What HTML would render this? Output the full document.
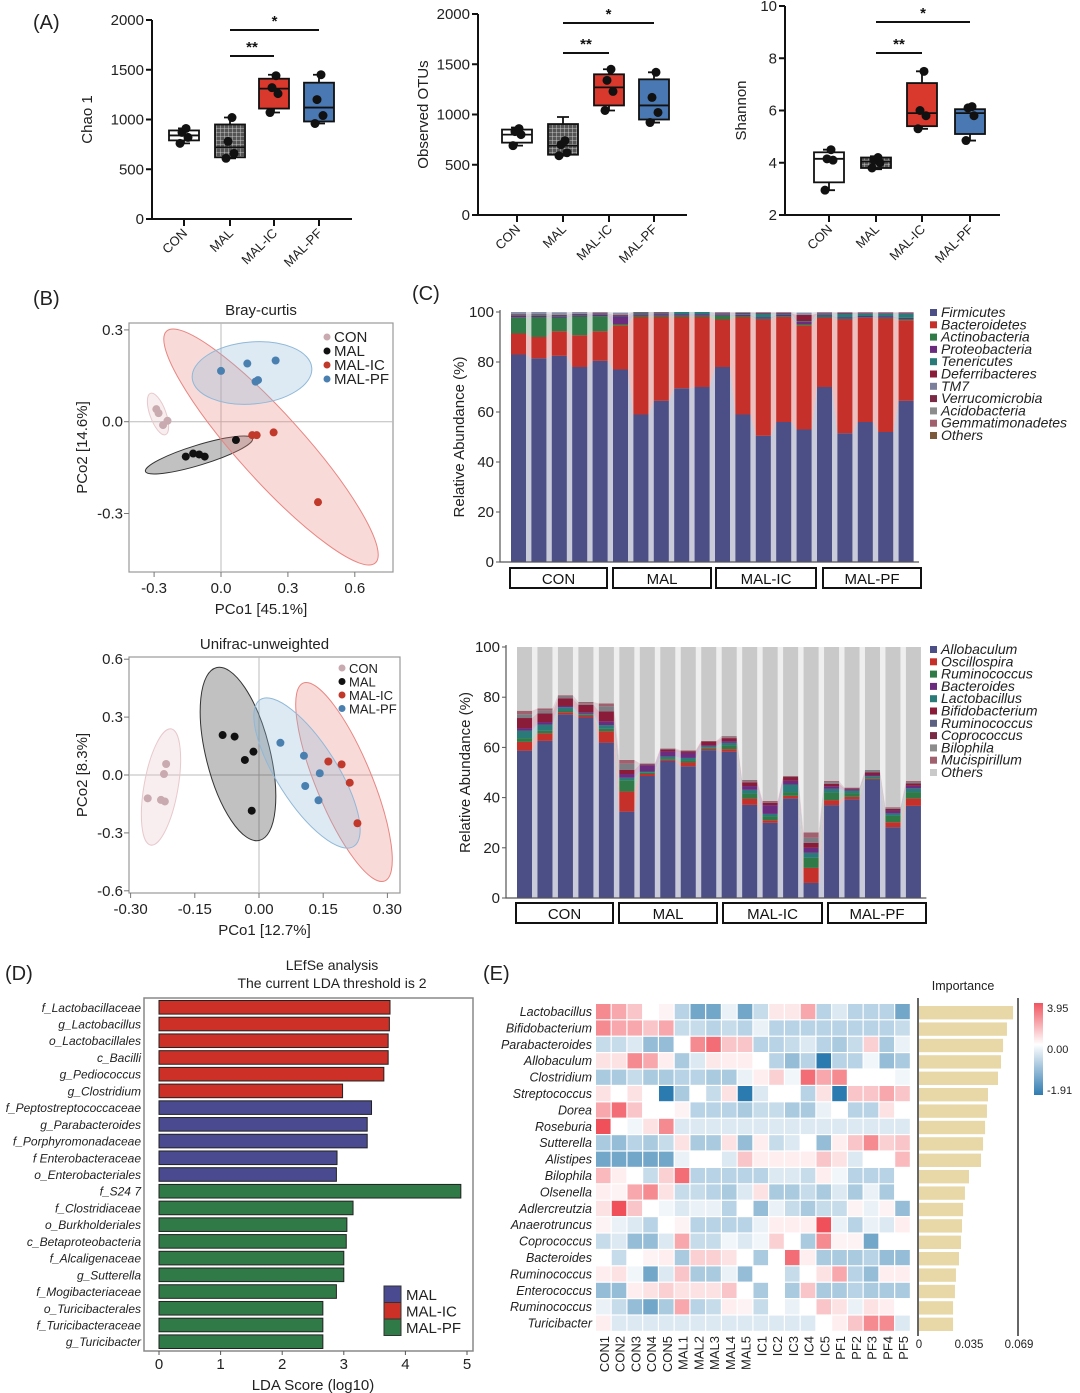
<!DOCTYPE html>
<html><head><meta charset="utf-8"><style>
html,body{margin:0;padding:0;background:#fff}
svg{display:block;font-family:"Liberation Sans",sans-serif}
</style></head><body>
<svg id="fig" width="1080" height="1393" viewBox="0 0 1080 1393" xmlns="http://www.w3.org/2000/svg">
<defs>
<pattern id="grid" width="4" height="4" patternUnits="userSpaceOnUse"><rect width="4" height="4" fill="#555"/><path d="M0 0H4M0 0V4" stroke="#ddd" stroke-width="0.8"/></pattern>
<linearGradient id="cbar" x1="0" y1="0" x2="0" y2="1"><stop offset="0" stop-color="#f05560"/><stop offset="0.45" stop-color="#fff"/><stop offset="1" stop-color="#2f7bb0"/></linearGradient>
</defs>
<g font-size="20" fill="#222"><text x="33" y="29">(A)</text><text x="33" y="305">(B)</text><text x="412" y="300">(C)</text><text x="5" y="980">(D)</text><text x="483" y="980">(E)</text></g>
</svg>
<script>
// ---------- DATA ----------
const groups=["CON","MAL","MAL-IC","MAL-PF"];
const chaoQ1=[790,620,1110,980], chaoMed=[840,720,1310,1120], chaoQ3=[890,950,1410,1370], chaoLo=[760,610,1070,960], chaoHi=[910,1020,1450,1450];
const chaoPts=[[760,820,870,910],[610,660,780,1020],[1070,1260,1320,1440],[960,1040,1200,1450]];
const otuQ1=[720,600,1090,950], otuMed=[800,690,1270,1090], otuQ3=[850,905,1400,1350], otuLo=[690,590,1040,920], otuHi=[870,975,1450,1420];
const otuPts=[[690,800,830,860],[590,620,700,740],[1040,1230,1340,1450],[920,1020,1170,1420]];
const shQ1=[3.25,3.8,5.4,5.1], shMed=[4.15,4.05,5.9,5.9], shQ3=[4.4,4.2,7.05,6.05], shLo=[2.95,3.75,5.3,4.85], shHi=[4.5,4.25,7.5,6.15];
const shPts=[[2.95,4.1,4.15,4.5],[3.8,4.0,4.1,4.2],[5.3,5.8,6.0,7.5],[4.85,5.8,6.1,6.15]];
const braySeries=["CON","MAL","MAL-IC","MAL-PF"];
const brayX=[[-0.29,-0.28,-0.24,-0.26],[-0.158,-0.125,-0.098,-0.073,0.067],[0.14,0.16,0.236,0.435],[0.0,0.118,0.245,0.155,0.166]];
const brayY=[[0.041,0.028,0.003,-0.011],[-0.114,-0.104,-0.107,-0.114,-0.06],[-0.044,-0.044,-0.035,-0.263],[0.166,0.19,0.2,0.131,0.136]];
const uniX=[[-0.26,-0.229,-0.22,-0.222,-0.217],[-0.085,-0.057,-0.033,-0.013,-0.017],[0.162,0.193,0.212,0.23],[0.05,0.105,0.142,0.108,0.139]];
const uniY=[[-0.121,-0.129,-0.137,0.005,0.057],[0.207,0.199,0.078,0.121,-0.185],[0.07,0.055,-0.04,-0.25],[0.167,0.1,0.009,-0.057,-0.131]];
const phyla=["Firmicutes","Bacteroidetes","Actinobacteria","Proteobacteria","Tenericutes","Deferribacteres","TM7","Verrucomicrobia","Acidobacteria","Gemmatimonadetes","Others"];
const firm=[83,81.5,82.5,78,80.5,77,59,64.5,69.5,70,78,59,50.5,56,53,70,51.5,56,52,64.5];
const bact=[8.4,8.5,9.8,12.7,11.8,17.7,39,33.5,28.5,28,19,39,46.5,42,41.7,27.6,45.5,41.6,45.4,32.2];
const actino=[6.5,8,5.5,7.5,6,0.5,0.6,0.5,0.5,0.5,1.5,0.4,0.3,0.3,0.5,0.5,0.3,0.3,0.3,0.5];
const proteo=[0.5,0.5,0.5,0.5,0.5,3,0.5,0.5,0.5,0.5,0.3,0.5,0.5,0.5,0.8,0.5,0.5,0.5,0.5,0.5];
const teneri=[0.3,0.3,0.3,0.3,0.3,0.3,0.5,0.5,1,1,0.3,0.5,1.5,0.5,0.3,0.5,1.5,0.8,1,1.5];
const deferri=[0.3,0.3,0.3,0.3,0.3,0.3,0.3,0.3,0.3,0.3,0.3,0.3,0.3,0.3,2.5,0.3,0.3,0.3,0.3,0.3];
const phyOther=[1,1,1,1,1,1,1,1,1,1,1,1,1,1,1,1,1,1,1,1];
const genera=["Allobaculum","Oscillospira","Ruminococcus","Bacteroides","Lactobacillus","Bifidobacterium","Ruminococcus","Coprococcus","Bilophila","Mucispirillum","Others"];
const allob=[58.7,62.6,73.2,71.9,61.9,34.4,48.6,54.6,52.5,58.9,58.3,37.1,30,39.7,6,37,39.3,47.2,28.2,36.7];
const oscil=[3.5,3,0.8,0.8,4.5,8,0.8,0.5,1.5,0.5,1,2.5,1,1,6,2,1,0.3,2,3];
const rumin=[1.5,1,0.5,0.3,1,4.5,0.5,0.5,0.8,0.5,1.5,2,1.5,1.5,4,3,1.5,0.5,2.5,2.5];
const lacto=[3,2.5,1.5,0.5,1.5,1,0.5,0.8,1,0.5,1,1.5,1,3,2,1.5,1,0.5,1,1.5];
const bacter=[1,1,0.5,0.5,1.5,1.5,2.5,2,2,0.5,0.7,1.5,3.5,1.5,2,1,0.5,0.5,1,1];
const bifido=[4,3.5,3,3,4,1.6,0.3,0.8,0.7,1.5,1.2,1.5,1,1.5,2,1,0.4,1,0.8,1];
const biloph=[1.5,1,0.8,0.6,2,2.5,0.2,0.2,0.2,0.1,0.4,0.5,0.2,0.2,2,0.6,0.2,1,0.4,0.5];
const mucis=[1.4,0.9,0.5,0.5,1.1,1.5,0.2,0.2,0.2,0.1,0.4,0.4,0.5,0.2,2.1,0.5,0.1,0,0.3,0.4];
const genOther=[25.4,24.5,19.2,21.9,22.5,45,46.4,40.4,41.1,37.4,35.5,53,61.3,51.4,73.9,53.4,56,49,63.8,53.4];
const ldaLabels=["f_Lactobacillaceae","g_Lactobacillus","o_Lactobacillales","c_Bacilli","g_Pediococcus","g_Clostridium","f_Peptostreptococcaceae","g_Parabacteroides","f_Porphyromonadaceae","f Enterobacteraceae","o_Enterobacteriales","f_S24 7","f_Clostridiaceae","o_Burkholderiales","c_Betaproteobacteria","f_Alcaligenaceae","g_Sutterella","f_Mogibacteriaceae","o_Turicibacterales","f_Turicibacteraceae","g_Turicibacter"];
const ldaScores=[3.75,3.74,3.72,3.72,3.65,2.98,3.45,3.38,3.38,2.89,2.88,4.9,3.15,3.05,3.04,3.0,3.0,2.88,2.66,2.66,2.66];
const ldaGroup=["MAL-IC","MAL-IC","MAL-IC","MAL-IC","MAL-IC","MAL-IC","MAL","MAL","MAL","MAL","MAL","MAL-PF","MAL-PF","MAL-PF","MAL-PF","MAL-PF","MAL-PF","MAL-PF","MAL-PF","MAL-PF","MAL-PF"];
const ldaTicks=[0,1,2,3,4,5];
const hmRows=["Lactobacillus","Bifidobacterium","Parabacteroides","Allobaculum","Clostridium","Streptococcus","Dorea","Roseburia","Sutterella","Alistipes","Bilophila","Olsenella","Adlercreutzia","Anaerotruncus","Coprococcus","Bacteroides","Ruminococcus","Enterococcus","Ruminococcus","Turicibacter"];
const hmCols=["CON1","CON2","CON3","CON4","CON5","MAL1","MAL2","MAL3","MAL4","MAL5","IC1","IC2","IC3","IC4","IC5","PF1","PF2","PF3","PF4","PF5"];
const hmVals=[
[2,1.5,1,0,0.2,-1,-2,-2,-0.3,-2,-0.8,0.4,0.4,1.5,-1,-0.5,-1,-1,-1,-2],
[2,1.5,1.5,1,1.5,-0.8,-0.8,-1,-0.8,-1,-0.3,-1,-1,-1,-1,-1,-1,-1,-1,-0.8],
[-0.8,-0.8,-0.5,-1.5,-1.5,0,2,2.5,1,1,-1,-1,-0.8,-0.5,-1,-1.2,-0.8,0.8,-1.2,-0.3],
[0.5,0.5,2,1.5,0.3,-1.2,-0.5,0.4,0.3,0.3,0,-1,-1.5,-1,-3,-1,-1,-0.2,-1.5,-1.2],
[-1.2,-1.2,-0.8,-1.2,-1.2,-1,-1,-1.2,-1.2,-0.3,0.3,0.8,-0.2,2.5,1.5,2,0,0,0,-0.2],
[0.5,0,0.5,0,-3,-1.2,0,-0.8,0.5,-3,-0.5,0,0,-1,0.5,-3,1,1,1.5,1],
[1.5,2.5,1,0,0,0.2,-1,-1,-1,-1.2,-0.8,-0.8,-1.2,-1.2,-0.3,0,-1,-1,0.5,0],
[3,0,-0.2,0.5,2,-0.5,-0.5,-0.5,-0.5,-0.5,-0.5,-0.5,-0.5,-0.5,-0.5,-0.5,-0.5,-0.5,-0.5,-0.5],
[-1.2,-1.5,-1,-1.2,-0.8,0.5,-1.2,-1.2,0.5,-1.5,0.3,-0.8,-0.5,0,-1.5,0.3,1,2,0.8,1],
[-2,-2,-2,-2,-2,-0.3,0,0,-0.5,1,0.3,0.3,0.3,0.3,1,0.5,-0.5,0,0,1.2],
[1.2,0.3,0,-0.8,0.8,2.5,-1,-1,-1,-1,-1,-0.5,-0.5,-0.8,0.3,-0.2,-1,-1,-1,0],
[0.3,0.2,1.5,2,0.5,-0.8,-0.8,-1,-1.2,-0.5,0.5,-1.2,-1.2,-0.8,-1.2,-0.5,-1.2,-0.3,-1.2,0],
[0.5,3,1,0,-0.2,-0.5,-0.3,-0.3,-1,0,-1.5,-0.3,-0.8,-1.2,-0.8,-0.8,0.2,-0.3,0.2,-1.5],
[0.2,-0.3,-0.5,-1,0,0.2,-1,-1,-1,-1,-0.3,0.3,0.3,0.3,3,-0.3,-1,-0.3,-0.5,0.3],
[-0.8,-0.5,-1.5,-1.5,-0.5,1.5,-0.8,-0.8,-0.2,-0.5,-0.2,0.8,0,-1.2,2,0.2,0.2,-2,0,0],
[0,-0.8,0,0.2,0.3,-1.2,0.8,0.8,0.5,0,-1.2,0,2.5,0.3,-1.2,-1.2,-1.2,-1,-1.5,-1.5],
[0.3,0.5,-0.2,-2,-0.5,1,-1.2,-1.2,-0.3,-1.5,0,0,-0.8,0,0.5,1.5,-1,-1.5,0.3,0.3],
[-1.5,-1.5,0.3,0.5,0.8,0.5,0.5,0.5,1,0,-1.2,0,-1.2,1,-1.2,-1.2,-1,-1.2,-1.2,-1.2],
[-0.3,-0.8,-1.5,-2,-1.2,1.5,-1,-0.8,0.3,0.2,-0.8,0,-0.3,0,1,0.5,-0.3,0.5,0.3,0],
[0.3,-0.5,-0.5,-0.5,-0.5,-0.5,-0.5,-0.5,-0.5,-0.5,-0.5,-0.5,-0.5,-0.5,0,0.3,1,2,2,-0.5]];
const importance=[0.0649,0.0607,0.0580,0.0566,0.0545,0.0476,0.0469,0.0456,0.0442,0.0428,0.0345,0.0317,0.0304,0.0297,0.0290,0.0276,0.0255,0.0248,0.0235,0.0235];
const impTicks=["0","0.035","0.069"];

// ---------- HELPERS ----------
const NS="http://www.w3.org/2000/svg", svg=document.getElementById('fig');
function el(tag,a,p){const e=document.createElementNS(NS,tag);for(const k in a)e.setAttribute(k,String(a[k]));(p||svg).appendChild(e);return e;}
function tx(s,a,p){const e=el('text',a,p);e.textContent=s;return e;}
function grp(name){const g=el('g',{});return g;}

// ---------- PANEL A ----------
function boxPanel(name,ax,axEnd,y0,yTop,vmin,vmax,ticks,tickLbl,ticksX,ylab,ylabX,Q1,Med,Q3,Lo,Hi,Pts,sig){
  const g=grp(name);
  const Y=v=>y0-(v-vmin)/(vmax-vmin)*(y0-yTop);
  const a1=el('path',{d:`M${ax} ${yTop}V${y0}H${axEnd}`,stroke:'#111','stroke-width':2,fill:'none'},g);
  
  ticks.forEach((t,i)=>{const y=Y(t);
    const l=el('line',{x1:ax-6,x2:ax,y1:y,y2:y,stroke:'#111','stroke-width':2},g);
    
    const s=tx(tickLbl[i],{x:ax-8,y:y+5,'text-anchor':'end','font-size':15,fill:'#222'},g);
    });
  const yl=tx(ylab,{transform:`translate(${ylabX},${(y0+yTop)/2}) rotate(-90)`,'text-anchor':'middle','font-size':15,fill:'#222'},g);
  
  const fills=['#fff','url(#grid)','#d9382c','#4a78b2'];
  groups.forEach((gn,i)=>{const x=ticksX[i];
    const tk=el('line',{x1:x,x2:x,y1:y0,y2:y0+7,stroke:'#111','stroke-width':2},g);
    
    const lb=tx(gn,{transform:`translate(${x+4},${y0+15}) rotate(-45)`,'text-anchor':'end','font-size':13,fill:'#222'},g);
    
    const w=el('path',{d:`M${x} ${Y(Lo[i])}V${Y(Q1[i])}M${x} ${Y(Q3[i])}V${Y(Hi[i])}M${x-6} ${Y(Lo[i])}H${x+6}M${x-6} ${Y(Hi[i])}H${x+6}`,stroke:'#111','stroke-width':1.8},g);
    
    const b=el('rect',{x:x-15,y:Y(Q3[i]),width:30,height:Y(Q1[i])-Y(Q3[i]),fill:fills[i],stroke:'#111','stroke-width':1.8},g);
    
    const m=el('line',{x1:x-15,x2:x+15,y1:Y(Med[i]),y2:Y(Med[i]),stroke:'#111','stroke-width':1.8},g);
    
    Pts[i].forEach((v,j)=>{const c=el('circle',{cx:x+(j%2?4:-4)*(j>1?0.5:1),cy:Y(v),r:4.5,fill:'#111'},g);
      });
  });
  sig.forEach(s=>{const x1=ticksX[1],x2=ticksX[s[0]];
    const l=el('line',{x1:x1,x2:x2,y1:s[1],y2:s[1],stroke:'#111','stroke-width':2},g);
    
    const t=tx(s[2],{x:(x1+x2)/2,y:s[1]-4,'text-anchor':'middle','font-size':15,'font-weight':'bold',fill:'#111'},g);
    });
}
try{
boxPanel('chao1-boxplot',152,352,219,20,0,2000,[0,500,1000,1500,2000],["0","500","1000","1500","2000"],[184,230,274,319],"Chao 1",92,chaoQ1,chaoMed,chaoQ3,chaoLo,chaoHi,chaoPts,[[2,56,"**"],[3,30,"*"]]);
boxPanel('otus-boxplot',478,687,215,14,0,2000,[0,500,1000,1500,2000],["0","500","1000","1500","2000"],[517,563,609,654],"Observed OTUs",428,otuQ1,otuMed,otuQ3,otuLo,otuHi,otuPts,[[2,53,"**"],[3,23,"*"]]);
boxPanel('shannon-boxplot',785,1000,215,6,2,10,[2,4,6,8,10],["2","4","6","8","10"],[829,876,922,970],"Shannon",746,shQ1,shMed,shQ3,shLo,shHi,shPts,[[2,53,"**"],[3,22,"*"]]);
}catch(e){console.log(e);}

// ---------- PANEL B ----------
function pcoa(name,box,x0,xs,y0,ys,xt,xtl,yt,ytl,title,xlab,ylab,X,Yd,ells,leg){
  const g=grp(name);
  const PX=v=>x0+v*xs, PY=v=>y0-v*ys;
  const f=el('rect',{x:box[0],y:box[1],width:box[2]-box[0],height:box[3]-box[1],fill:'none',stroke:'#999','stroke-width':1.2},g);
  
  const z1=el('line',{x1:PX(0),x2:PX(0),y1:box[1],y2:box[3],stroke:'#bbb','stroke-width':1},g);
  
  const z2=el('line',{x1:box[0],x2:box[2],y1:PY(0),y2:PY(0),stroke:'#bbb','stroke-width':1},g);
  
  const ec=['#e8c8cc','#333','#e88580','#8fb8d8'];
  ells.forEach((e,i)=>{const E=el('ellipse',{cx:e[0],cy:e[1],rx:e[2],ry:e[3],transform:`rotate(${e[4]} ${e[0]} ${e[1]})`,fill:ec[i],'fill-opacity':0.3,stroke:i==1?'#333':ec[i],'stroke-width':1},g);
    });
  xt.forEach((v,i)=>{const t=el('line',{x1:PX(v),x2:PX(v),y1:box[3],y2:box[3]+5,stroke:'#777'},g);
    const s=tx(xtl[i],{x:PX(v),y:box[3]+21,'text-anchor':'middle','font-size':15,fill:'#222'},g);});
  yt.forEach((v,i)=>{const t=el('line',{x1:box[0]-5,x2:box[0],y1:PY(v),y2:PY(v),stroke:'#777'},g);
    const s=tx(ytl[i],{x:box[0]-6,y:PY(v)+5,'text-anchor':'end','font-size':15,fill:'#222'},g);});
  const cols=['#c8aab0','#111','#c0392b','#4a80b0'];
  X.forEach((xs_,i)=>xs_.forEach((v,j)=>{const c=el('circle',{cx:PX(v),cy:PY(Yd[i][j]),r:4,fill:cols[i]},g);}));
  const t=tx(title,{x:(box[0]+box[2])/2,y:box[1]-8,'text-anchor':'middle','font-size':15,fill:'#222'},g);
  const xl=tx(xlab,{x:(box[0]+box[2])/2,y:box[3]+42,'text-anchor':'middle','font-size':15,fill:'#222'},g);
  const yl=tx(ylab,{transform:`translate(${box[0]-42},${(box[1]+box[3])/2}) rotate(-90)`,'text-anchor':'middle','font-size':15,fill:'#222'},g);
  braySeries.forEach((s,i)=>{const c=el('circle',{cx:leg[0],cy:leg[1]+i*leg[2],r:3.5,fill:cols[i]},g);
    const l=tx(s,{x:leg[0]+7,y:leg[1]+i*leg[2]+5,'font-size':leg[3],fill:'#222'},g);});
}
try{
pcoa('bray-curtis-pcoa',[129,323,393,572],221,223,421.7,306,[-0.3,0,0.3,0.6],["-0.3","0.0","0.3","0.6"],[0.3,0,-0.3],["0.3","0.0","-0.3"],"Bray-curtis","PCo1 [45.1%]","PCo2 [14.6%]",brayX,brayY,
  [[158,414,22,8,70],[199,455,56,10,-17],[271,447,156,33,48],[252,373,60,31,-5]],[327,337,14,15]);
pcoa('unifrac-pcoa',[129,657,400,893],259,428,775,193,[-0.3,-0.15,0,0.15,0.3],["-0.30","-0.15","0.00","0.15","0.30"],[0.6,0.3,0,-0.3,-0.6],["0.6","0.3","0.0","-0.3","-0.6"],"Unifrac-unweighted","PCo1 [12.7%]","PCo2 [8.3%]",uniX,uniY,
  [[161,787,59,17,100],[238,754,89,32,76],[344,782,107,28,67.6],[307,773,87,30,57.5]],[342,668,13.5,13]);
}catch(e){console.log(e);}

// ---------- PANEL C ----------
function stack(name,ax,x0,pitch,bw,y0,yTop,layers,cols,lbls,legCols,lx,ly,boxes,by){
  const g=grp(name);
  const Y=v=>y0-v/100*(y0-yTop);
  const cum=[];for(let i=0;i<20;i++)cum.push(0);
  boxes.forEach((bx,i)=>{const r=el('rect',{x:bx[0],y:by,width:bx[1]-bx[0],height:20,fill:'#fff',stroke:'#111','stroke-width':2},g);
    const t=tx(groups[i],{x:(bx[0]+bx[1])/2,y:by+16,'text-anchor':'middle','font-size':15,fill:'#111'},g);});
  lbls.forEach((s,i)=>{const r=el('rect',{x:lx,y:ly+i*12.3-4,width:7,height:7,fill:legCols[i]},g);
    const t=tx(s,{x:lx+11,y:ly+i*12.3+4,'font-size':14,'font-style':'italic',fill:'#222'},g);});
  for(let k=0;k<layers.length;k++){const L=layers[k];const base=cum.slice();
    for(let i=0;i<20;i++){cum[i]=Math.min(100,cum[i]+L[i]);}
    const top=[],bot=[];for(let i=0;i<20;i++){const x=x0+i*pitch;top.push(x+','+Y(cum[i]),(x+bw)+','+Y(cum[i]));bot.unshift((x+bw)+','+Y(base[i]),x+','+Y(base[i]));}
    const p=el('polygon',{points:top.concat(bot).join(' '),fill:cols[k],'fill-opacity':0.3},g);
    
    for(let i=0;i<20;i++){const h=Y(base[i])-Y(cum[i]);if(h<=0)continue;
      const r=el('rect',{x:x0+i*pitch,y:Y(cum[i]),width:bw,height:h,fill:cols[k]},g);
      }
  }
  const a=el('path',{d:`M${ax} ${yTop-2}V${y0}H${x0+20*pitch}`,stroke:'#555','stroke-width':1.2,fill:'none'},g);
  [0,20,40,60,80,100].forEach(t=>{const l=el('line',{x1:ax-4,x2:ax,y1:Y(t),y2:Y(t),stroke:'#555'},g);
    const s=tx(String(t),{x:ax-6,y:Y(t)+5,'text-anchor':'end','font-size':15,fill:'#222'},g);});
  const yl=tx("Relative Abundance (%)",{transform:`translate(${ax-36},${(y0+yTop)/2}) rotate(-90)`,'text-anchor':'middle','font-size':15,fill:'#222'},g);
}
try{
stack('phylum-stacked-bars',500,511,20.4,15,562,312,[firm,bact,actino,proteo,teneri,deferri,phyOther],
  ['#4b4f86','#c5302a','#2f7a46','#6b2c80','#2b7a7a','#8a1c3a','#8a8fa8'],
  phyla,['#4b4f86','#c5302a','#2f7a46','#6b2c80','#2b7a7a','#8a1c3a','#7c7f9c','#7a2a45','#8c8c8c','#a0606e','#7a5a3a'],930,313,
  [[510,607],[613,711],[716,816],[823,921]],568);
}catch(e){console.log(e);}
try{
stack('genus-stacked-bars',506,517,20.47,15,898,647,[allob,oscil,rumin,lacto,bacter,bifido,biloph,mucis,genOther],
  ['#4b4f86','#c5302a','#2f7a46','#2b7a7a','#6b2c80','#8a1c3a','#7d7d84','#a0606e','#c9c9c9'],
  genera,['#4b4f86','#c5302a','#2f7a46','#6b2c80','#2b7a7a','#8a1c3a','#5c6080','#7a2a45','#8c8c8c','#a0606e','#c9c9c9'],930,650,
  [[516,613],[619,717],[723,822],[828,926]],903);
}catch(e){console.log(e);}

// ---------- PANEL D ----------
try{(function(){const g=grp('lefse-chart');
  const X=v=>159+v*61.6, Yc=i=>1007.3+i*16.72;
  const gc={"MAL":"#4a4a90","MAL-IC":"#cc3027","MAL-PF":"#2f7a46"};
  const f=el('rect',{x:144,y:998,width:329,height:353,fill:'none',stroke:'#888','stroke-width':1.5},g);
  ldaScores.forEach((v,i)=>{const r=el('rect',{x:X(0),y:Yc(i)-6.8,width:X(v)-X(0),height:13.6,fill:gc[ldaGroup[i]],stroke:'#222','stroke-width':1},g);
    
    const t=tx(ldaLabels[i],{x:141,y:Yc(i)+4.5,'text-anchor':'end','font-size':12,'font-style':'italic',fill:'#222'},g);});
  ldaTicks.forEach(v=>{const l=el('line',{x1:X(v),x2:X(v),y1:1351,y2:1355,stroke:'#555'},g);
    const t=tx(String(v),{x:X(v),y:1369,'text-anchor':'middle','font-size':15,fill:'#222'},g);});
  const xl=tx("LDA Score (log10)",{x:313,y:1390,'text-anchor':'middle','font-size':15,fill:'#222'},g);
  const t1=tx("LEfSe analysis",{x:332,y:970,'text-anchor':'middle','font-size':14,fill:'#222'},g);
  const t2=tx("The current LDA threshold is 2",{x:332,y:988,'text-anchor':'middle','font-size':14,fill:'#222'},g);
  ["MAL","MAL-IC","MAL-PF"].forEach((s,i)=>{const r=el('rect',{x:384,y:1286+i*16.5,width:17,height:16.5,fill:gc[s],stroke:'#333'},g);
    const t=tx(s,{x:406,y:1300+i*16.5,'font-size':15,fill:'#222'},g);});
})();}catch(e){console.log(e);}

// ---------- PANEL E ----------
try{(function(){const g=grp('heatmap');
  const cw=15.75, rh=16.4, hx=596, hy=1004;
  function col(v){const t=Math.min(Math.abs(v)/3,1);const c=v>=0?[240,80,90]:[43,123,176];
    return `rgb(${Math.round(255+(c[0]-255)*t)},${Math.round(255+(c[1]-255)*t)},${Math.round(255+(c[2]-255)*t)})`;}
  hmVals.forEach((row,r)=>{row.forEach((v,c)=>{const e=el('rect',{x:hx+c*cw,y:hy+r*rh,width:cw-1.2,height:rh-1.2,fill:col(v)},g);
      });
    const t=tx(hmRows[r],{x:592,y:hy+r*rh+12,'text-anchor':'end','font-size':12.5,'font-style':'italic',fill:'#222'},g);
    const b=el('rect',{x:919,y:hy+r*rh+2,width:importance[r]/0.069*100,height:rh-3,fill:'#e8d8a8'},g);});
  hmCols.forEach((s,c)=>{const t=tx(s,{transform:`translate(${hx+c*cw+cw/2+5},1336) rotate(-90)`,'text-anchor':'end','font-size':13,fill:'#222'},g);});
  const fr=el('path',{d:'M918 998V1336M1018 998V1336',stroke:'#333','stroke-width':1.5},g);
  const it=tx("Importance",{x:963,y:990,'text-anchor':'middle','font-size':12.5,fill:'#222'},g);
  impTicks.forEach((s,i)=>{const t=tx(s,{x:919+i*50,y:1348,'text-anchor':'middle','font-size':11.5,fill:'#222'},g);});
  const cb=el('rect',{x:1034,y:1003,width:9,height:92,fill:'url(#cbar)'},g);
  [["3.95",1012],["0.00",1053],["-1.91",1094]].forEach(a=>{const t=tx(a[0],{x:1047,y:a[1],'font-size':11,fill:'#222'},g);});
})();}catch(e){console.log(e);}
</script>
</body></html>
